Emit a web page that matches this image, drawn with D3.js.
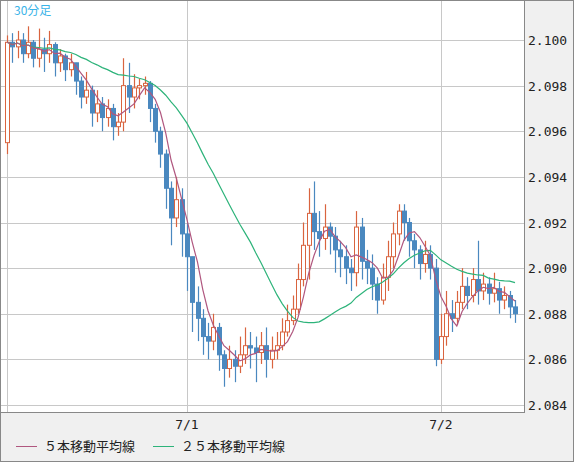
<!DOCTYPE html>
<html><head><meta charset="utf-8">
<script src="https://cdn.jsdelivr.net/npm/d3@7"></script>
<style>body{margin:0;background:#f0f0f0}svg{display:block}</style>
</head><body>
<svg id="chart" width="574" height="462"></svg>
<script>
// close prices, 30 min bars from 6/30 07:00
var closes = [2.0999,2.0997,2.1000,2.0994,2.0999,2.0992,2.0996,2.0994,2.0998,2.0990,2.0993,
  2.0987,2.0990,2.0982,2.0975,2.0978,2.0968,2.0972,2.0966,2.0970,2.0962,
  2.0964,2.0980,2.0975,2.0979,2.0980,2.0981,2.0970,2.0960,2.0950,2.0935,
  2.0922,2.0930,2.0915,2.0905,2.0885,2.0878,2.0870,2.0868,2.0874,2.0862,
  2.0856,2.0860,2.0857,2.0862,2.0866,2.0865,2.0863,2.0866,2.0860,2.0864,
  2.0866,2.0872,2.0877,2.0882,2.0895,2.0910,2.0924,2.0916,2.0913,2.0918,
  2.0914,2.0908,2.0905,2.0900,2.0898,2.0918,2.0903,2.0900,2.0893,2.0886,
  2.0896,2.0905,2.0915,2.0925,2.0920,2.0912,2.0908,2.0902,2.0906,2.0900,
  2.0860,2.0870,2.0880,2.0878,2.0885,2.0892,2.0888,2.0895,2.0890,2.0893,
  2.0889,2.0891,2.0886,2.0888,2.0883,2.0880];
var highs = [2.1002,2.1003,2.1004,2.1003,2.1006,2.1000,2.1005,2.1001,2.1004,2.0999,2.0996,
  2.0994,2.0994,2.0990,2.0984,2.0986,2.0980,2.0978,2.0975,2.0974,2.0972,
  2.0968,2.0992,2.0990,2.0985,2.0983,2.0984,2.0982,2.0972,2.0962,2.0952,
  2.0938,2.0940,2.0935,2.0920,2.0905,2.0892,2.0882,2.0876,2.0880,2.0876,
  2.0864,2.0866,2.0864,2.0870,2.0874,2.0872,2.0870,2.0872,2.0874,2.0870,
  2.0872,2.0878,2.0884,2.0888,2.0902,2.0920,2.0935,2.0938,2.0925,2.0928,
  2.0920,2.0918,2.0912,2.0910,2.0904,2.0925,2.0922,2.0908,2.0906,2.0896,
  2.0902,2.0912,2.0920,2.0928,2.0928,2.0922,2.0915,2.0910,2.0912,2.0910,
  2.0904,2.0880,2.0890,2.0886,2.0890,2.0900,2.0896,2.0900,2.0912,2.0898,
  2.0896,2.0898,2.0894,2.0892,2.0890,2.0886];
var lows = [2.0950,2.0990,2.0992,2.0990,2.0992,2.0988,2.0988,2.0986,2.0990,2.0984,2.0986,
  2.0982,2.0984,2.0976,2.0970,2.0972,2.0962,2.0964,2.0960,2.0962,2.0956,
  2.0958,2.0960,2.0968,2.0970,2.0974,2.0976,2.0964,2.0955,2.0944,2.0926,
  2.0910,2.0918,2.0905,2.0890,2.0872,2.0868,2.0862,2.0860,2.0864,2.0855,
  2.0848,2.0852,2.0850,2.0854,2.0858,2.0856,2.0850,2.0858,2.0852,2.0856,
  2.0860,2.0864,2.0870,2.0875,2.0880,2.0892,2.0895,2.0908,2.0905,2.0908,
  2.0906,2.0898,2.0896,2.0893,2.0890,2.0892,2.0895,2.0893,2.0886,2.0880,
  2.0884,2.0890,2.0900,2.0910,2.0912,2.0905,2.0900,2.0895,2.0898,2.0895,
  2.0857,2.0858,2.0866,2.0872,2.0875,2.0882,2.0882,2.0885,2.0884,2.0886,
  2.0884,2.0885,2.0880,2.0882,2.0878,2.0876];
var firstOpen = 2.0955;
var yTicks = [2.084,2.086,2.088,2.090,2.092,2.094,2.096,2.098,2.100];
var dayLabels = [{i: 34, text: '7/1'}, {i: 82, text: '7/2'}];

var svg = d3.select('#chart');
var plotW = 524, plotH = 412;

// Build candles from the arrays
var candles = closes.map(function (c, i) {
    return {i: i, open: i === 0 ? firstOpen : closes[i - 1], close: c, high: highs[i], low: lows[i]};
});

// moving average over available window
function movingAvg(n) {
    return closes.map(function (c, i) {
        var s = closes.slice(Math.max(0, i - n + 1), i + 1);
        return {i: i, v: d3.mean(s)};
    });
}

var x = d3.scaleLinear().domain([0, 96]).range([7, 515]);
var y = d3.scaleLinear().domain([2.084, 2.100]).range([405, 40]);

svg.append('rect').attr('x', 0.5).attr('y', 0.5).attr('width', plotW).attr('height', plotH)
    .attr('fill', '#fff').attr('stroke', '#888');

// grid
svg.selectAll('.hg').data(yTicks).enter().append('line')
    .attr('x1', 1).attr('x2', plotW).attr('y1', function (d) { return Math.round(y(d)) + 0.5; })
    .attr('y2', function (d) { return Math.round(y(d)) + 0.5; }).attr('stroke', '#c8c8c8');
svg.selectAll('.vg').data([{i: 0}].concat(dayLabels)).enter().append('line')
    .attr('x1', function (d) { return Math.round(x(d.i)) + 0.5; })
    .attr('x2', function (d) { return Math.round(x(d.i)) + 0.5; })
    .attr('y1', 1).attr('y2', plotH).attr('stroke', '#c8c8c8');

// candles
var bull = '#d9643f', bear = '#4a88bf';
var g = svg.append('g');
g.selectAll('.wick').data(candles).enter().append('line')
    .attr('x1', function (d) { return Math.round(x(d.i)) + 0.5; })
    .attr('x2', function (d) { return Math.round(x(d.i)) + 0.5; })
    .attr('y1', function (d) { return y(d.high); }).attr('y2', function (d) { return y(d.low); })
    .attr('stroke', function (d) { return d.close >= d.open ? bull : bear; }).attr('stroke-width', 1.2);
g.selectAll('.body').data(candles).enter().append('rect')
    .attr('x', function (d) { return Math.round(x(d.i)) - 1.5; })
    .attr('width', 4)
    .attr('y', function (d) { return y(Math.max(d.open, d.close)); })
    .attr('height', function (d) { return Math.max(1, Math.abs(y(d.open) - y(d.close))); })
    .attr('fill', function (d) { return d.close >= d.open ? '#fff' : bear; })
    .attr('stroke', function (d) { return d.close >= d.open ? bull : bear; });

var line = d3.line().x(function (d) { return x(d.i); }).y(function (d) { return y(d.v); });
svg.append('path').datum(movingAvg(25)).attr('d', line).attr('fill', 'none')
    .attr('stroke', '#2db37a').attr('stroke-width', 1.2);
svg.append('path').datum(movingAvg(5)).attr('d', line).attr('fill', 'none')
    .attr('stroke', '#b0577f').attr('stroke-width', 1.2);

// labels
var font = '"DejaVu Sans Mono", monospace';
svg.selectAll('.yl').data(yTicks).enter().append('text')
    .attr('x', 528).attr('y', function (d) { return y(d) + 5; })
    .attr('font-family', font).attr('font-size', 13).attr('fill', '#222')
    .text(function (d) { return d.toFixed(3); });
svg.selectAll('.xl').data(dayLabels).enter().append('text')
    .attr('x', function (d) { return x(d.i); }).attr('y', 429).attr('text-anchor', 'middle')
    .attr('font-family', font).attr('font-size', 13).attr('fill', '#222')
    .text(function (d) { return d.text; });
svg.append('text').attr('x', 14).attr('y', 15).attr('font-family', '"Noto Sans CJK JP"')
    .attr('font-size', 12).attr('fill', '#3ab4e8').text('30分足');

var legend = [{t: '５本移動平均線', c: '#b0577f', x: 16}, {t: '２５本移動平均線', c: '#2db37a', x: 153}];
legend.forEach(function (l) {
    svg.append('line').attr('x1', l.x).attr('x2', l.x + 21).attr('y1', 446.5).attr('y2', 446.5).attr('stroke', l.c);
    svg.append('text').attr('x', l.x + 28).attr('y', 451).attr('font-family', '"Noto Sans CJK JP"')
        .attr('font-size', 13).attr('fill', '#222').text(l.t);
});
svg.append('rect').attr('x', 0.5).attr('y', 0.5).attr('width', 573).attr('height', 461)
    .attr('fill', 'none').attr('stroke', '#888');
</script>
</body></html>
